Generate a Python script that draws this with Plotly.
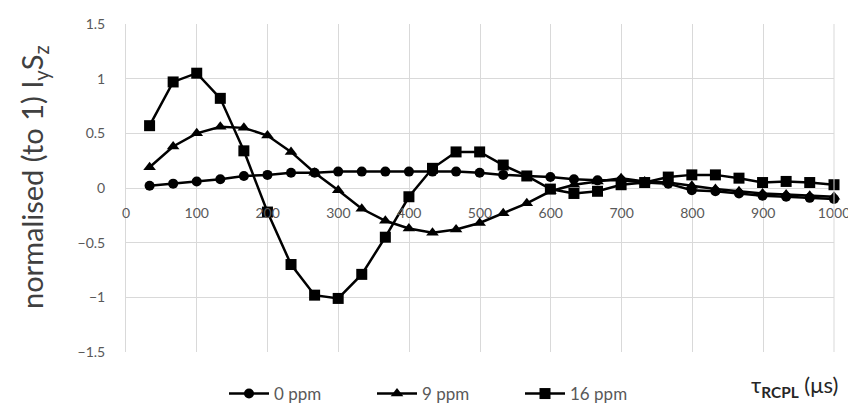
import plotly.graph_objects as go

tau = [33.3 * k for k in range(1, 31)]
tau = [round(t, 1) for t in tau]
tau[-1] = 1000

ppm0 = [0.02, 0.04, 0.06, 0.08, 0.11, 0.12, 0.14, 0.14, 0.15, 0.15,
        0.15, 0.15, 0.15, 0.15, 0.14, 0.12, 0.11, 0.10, 0.08, 0.07,
        0.07, 0.05, 0.04, -0.02, -0.03, -0.05, -0.07, -0.08, -0.09, -0.10]
ppm9 = [0.19, 0.38, 0.50, 0.56, 0.55, 0.48, 0.33, 0.14, -0.02, -0.19,
        -0.30, -0.37, -0.41, -0.38, -0.32, -0.23, -0.14, -0.03, 0.03, 0.06,
        0.09, 0.06, 0.05, 0.02, -0.01, -0.03, -0.05, -0.06, -0.07, -0.08]
ppm16 = [0.57, 0.97, 1.05, 0.82, 0.34, -0.22, -0.70, -0.98, -1.01, -0.79,
         -0.45, -0.08, 0.18, 0.33, 0.33, 0.21, 0.11, -0.01, -0.05, -0.03,
         0.03, 0.05, 0.10, 0.12, 0.12, 0.09, 0.05, 0.06, 0.05, 0.03]

names = ["0 ppm", "9 ppm", "16 ppm"]
symbols = ["circle", "triangle-up", "square"]
sizes = [10, 11, 11]

fig = go.Figure()
for name, ys, sym, sz in zip(names, [ppm0, ppm9, ppm16], symbols, sizes):
    fig.add_trace(go.Scatter(
        x=tau, y=ys, name=name, mode="lines+markers",
        line=dict(color="black", width=2.5),
        marker=dict(symbol=sym, size=sz, color="black"),
        cliponaxis=False,
    ))

grid = "#d9d9d9"
font_family = "Lato, Open Sans, sans-serif"
tickfont = dict(family=font_family, size=14, color="#595959")

# page body has an 8px margin: plot area lands at x 126..834, y 24..352 in the window
PL, PT, PW, PH = 126, 24, 708, 328

fig.update_layout(
    width=848, height=395,
    margin=dict(l=118, r=22, t=16, b=51, autoexpand=False),
    plot_bgcolor="white", paper_bgcolor="white",
    showlegend=True,
    legend=dict(orientation="h", x=(224 - PL) / PW, xanchor="left",
                y=-(394 - (PT + PH)) / PH, yanchor="middle",
                font=dict(family=font_family, size=17, color="#595959"),
                itemwidth=40, entrywidth=93, entrywidthmode="pixels",
                bgcolor="rgba(0,0,0,0)"),
    xaxis=dict(range=[0, 1000], dtick=100, tick0=0, showgrid=True, gridcolor=grid,
               gridwidth=1, zeroline=False, showline=False,
               anchor="free", position=0.5, automargin=False,
               ticks="", ticklabelstandoff=15, tickfont=tickfont),
    yaxis=dict(range=[-1.5, 1.5], dtick=0.5, tick0=0, showgrid=True, gridcolor=grid,
               gridwidth=1, zeroline=False, showline=True, linecolor=grid,
               automargin=False,
               ticks="", ticklabelstandoff=17, tickfont=tickfont),
    annotations=[
        dict(text="normalised (to 1) I<sub>y</sub>S<sub>z</sub>", xref="paper", yref="paper",
             x=(33 - PL) / PW, y=(PT + PH - 177) / PH, xanchor="center", yanchor="middle",
             textangle=-90, showarrow=False,
             font=dict(family=font_family, size=29, color="#404040")),
        dict(text="τ<sub><b>RCPL</b></sub> (μs)", xref="paper", yref="paper",
             x=(840 - PL) / PW, y=-(386 - (PT + PH)) / PH, xanchor="right", yanchor="middle",
             showarrow=False, font=dict(family=font_family, size=22, color="#262626")),
    ],
)
fig.add_shape(type="line", xref="paper", yref="paper", x0=1, x1=1, y0=0, y1=1,
              line=dict(color=grid, width=1))

fig.write_html("out.html")
